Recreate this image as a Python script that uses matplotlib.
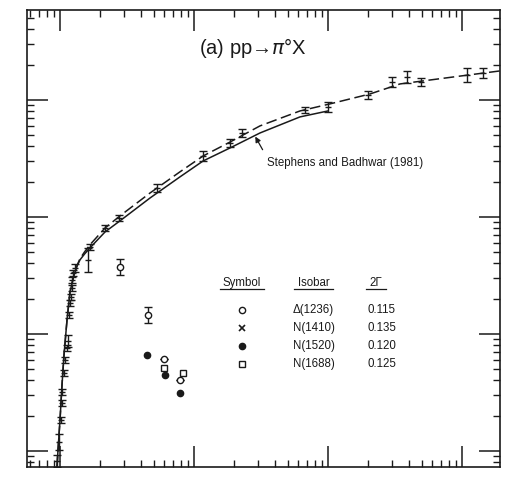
import matplotlib
matplotlib.use("Agg")
import matplotlib.pyplot as plt
from matplotlib.ticker import LogLocator, NullFormatter

plt.rcParams['font.family'] = ['Liberation Sans', 'DejaVu Sans']

# model curves (dashed = isobar model fit, solid = Stephens and Badhwar 1981)
dash_x = [0.95, 0.966, 1.0, 1.035, 1.071, 1.128, 1.188, 1.272, 1.34, 1.41, 1.52, 1.67, 2.17,
          2.80, 4.69, 7.86, 11.7, 18.6, 31.1, 61.8, 103.5, 206, 345, 577, 1148, 1923]
dash_y = [0.073, 0.102, 0.184, 0.366, 0.662, 1.32, 2.29, 3.20, 3.85, 4.40, 5.0, 5.77, 8.05,
          10.2, 16.0, 24.3, 33.2, 43.7, 60.0, 80.5, 92.5, 112.5, 137, 148, 164, 177]
sb_x = [0.95, 0.966, 1.0, 1.035, 1.071, 1.128, 1.188, 1.272, 1.34, 1.41, 1.52, 1.67, 2.17,
        2.80, 4.69, 7.86, 11.7, 18.6, 31.1, 61.8, 100]
sb_y = [0.073, 0.102, 0.184, 0.366, 0.662, 1.32, 2.29, 3.20, 3.80, 4.30, 4.80, 5.43, 7.45,
        9.25, 14.5, 22.0, 30.1, 38.9, 52.2, 71.6, 80.5]

# measured cross sections with errors (multiplicative)
data_x = [0.95, 0.983, 1.017, 1.035, 1.04, 1.071, 1.09, 1.128, 1.147, 1.167, 1.188,
          1.208, 1.229, 1.23, 1.25, 1.294, 1.62, 1.67, 2.17, 2.75, 5.3, 11.7, 18.6,
          22.8, 67.3, 100, 199, 300, 389, 494, 1089, 1435]
data_y = [0.082, 0.119, 0.184, 0.257, 0.319, 0.464, 0.600, 0.759, 0.871, 1.45, 1.84,
          2.07, 2.47, 2.89, 3.32, 3.66, 4.29, 5.54, 8.05, 9.8, 17.7, 33.2, 42.9,
          52.2, 82.2, 87.1, 110, 142, 157, 142, 164, 170]
data_f = [1.125, 1.17, 1.06, 1.06, 1.06, 1.06, 1.06, 1.06, 1.12, 1.06, 1.06,
          1.06, 1.06, 1.06, 1.06, 1.08, 1.27, 1.06, 1.06, 1.06, 1.08, 1.10, 1.08,
          1.08, 1.06, 1.10, 1.08, 1.10, 1.12, 1.08, 1.15, 1.10]

# isobar contributions
delta_x = [2.80, 4.54, 5.97, 7.86]
delta_y = [3.74, 1.45, 0.611, 0.404]
delta_f = [1.17, 1.17, 1.0, 1.0]
n1520_x = [4.46, 6.08, 7.86]
n1520_y = [0.662, 0.447, 0.313]
n1688_x = [5.97, 8.28]
n1688_y = [0.512, 0.464]

isobars = ['\u0394(1236)', 'N(1410)', 'N(1520)', 'N(1688)']
widths = ['0.115', '0.135', '0.120', '0.125']

ink = '#1a1a1a'
fig = plt.figure(figsize=(5.07, 4.80), dpi=100)
ax = fig.add_axes([27 / 507, 13 / 480, 473 / 507, 457 / 480])
ax.set_xscale('log')
ax.set_yscale('log')
ax.set_xlim(0.567, 1923)
ax.set_ylim(0.0729, 587)

ax.plot(sb_x, sb_y, '-', color=ink, lw=1.1)
ax.plot(dash_x, dash_y, color=ink, lw=1.1, dashes=(7, 3))

lo = [y - y / f for y, f in zip(data_y, data_f)]
hi = [y * f - y for y, f in zip(data_y, data_f)]
ax.errorbar(data_x, data_y, yerr=[lo, hi], fmt='_', ms=5, color=ink,
            elinewidth=1.0, capsize=2.8, capthick=1.0, mew=1.0)

dlo = [y - y / f for y, f in zip(delta_y, delta_f)]
dhi = [y * f - y for y, f in zip(delta_y, delta_f)]
ax.errorbar(delta_x, delta_y, yerr=[dlo, dhi], fmt='o', ms=4.5, mfc='white',
            mec=ink, mew=1.0, color=ink, elinewidth=1.0, capsize=2.8)
ax.plot(n1520_x, n1520_y, 'o', ms=4.5, color=ink)
ax.plot(n1688_x, n1688_y, 's', ms=4.2, mfc='white', mec=ink, mew=1.0)

# ticks on all sides, pointing in
ax.xaxis.set_major_locator(LogLocator(base=10, numticks=20))
ax.xaxis.set_minor_locator(LogLocator(base=10, subs=range(2, 10), numticks=50))
ax.yaxis.set_major_locator(LogLocator(base=10, numticks=20))
ax.yaxis.set_minor_locator(LogLocator(base=10, subs=range(2, 10), numticks=50))
ax.xaxis.set_major_formatter(NullFormatter())
ax.xaxis.set_minor_formatter(NullFormatter())
ax.yaxis.set_major_formatter(NullFormatter())
ax.yaxis.set_minor_formatter(NullFormatter())
ax.tick_params(which='both', direction='in', top=True, right=True, color=ink)
ax.tick_params(which='major', length=15, width=1.1)
ax.tick_params(which='minor', length=5, width=1.0)
for s in ax.spines.values():
    s.set_linewidth(1.2)
    s.set_color(ink)

ax.text(0.364, 0.917, '(a) pp\u2192$\\pi$\u00b0X', transform=ax.transAxes,
        fontsize=14.5, va='center', ha='left', color=ink)

ax.annotate('', xy=(28, 51), xytext=(0.501, 0.689), textcoords='axes fraction',
            arrowprops=dict(arrowstyle='-|>', color=ink, lw=0.9, mutation_scale=8))
ax.text(0.507, 0.665, 'Stephens and Badhwar (1981)', transform=ax.transAxes,
        fontsize=8.3, va='center', ha='left', color=ink)

# symbol table
hy = 0.4026
fs = 8.3
ax.text(0.4545, hy, 'Symbol', transform=ax.transAxes, fontsize=fs, ha='center', va='center', color=ink)
ax.text(0.607, hy, 'Isobar', transform=ax.transAxes, fontsize=fs, ha='center', va='center', color=ink)
ax.text(0.738, hy, '2\u0393', transform=ax.transAxes, fontsize=fs, ha='center', va='center', color=ink)
for x0, x1 in [(0.408, 0.501), (0.5645, 0.647), (0.717, 0.759)]:
    ax.plot([x0, x1], [hy - 0.014, hy - 0.014], transform=ax.transAxes, color=ink, lw=0.9)

rows = [0.3435, 0.304, 0.265, 0.2254]
styles = [dict(marker='o', ms=4.5, mfc='white', mec=ink, mew=1.0),
          dict(marker='x', ms=5, color=ink, mew=1.2),
          dict(marker='o', ms=4.5, color=ink),
          dict(marker='s', ms=4.2, mfc='white', mec=ink, mew=1.0)]
for ry, st, name, w in zip(rows, styles, isobars, widths):
    ax.plot([0.4545], [ry], linestyle='none', transform=ax.transAxes, clip_on=False, **st)
    ax.text(0.5624, ry, name, transform=ax.transAxes, fontsize=fs, ha='left', va='center', color=ink)
    ax.text(0.719, ry, w, transform=ax.transAxes, fontsize=fs, ha='left', va='center', color=ink)

fig.savefig('out.png', dpi=100)
